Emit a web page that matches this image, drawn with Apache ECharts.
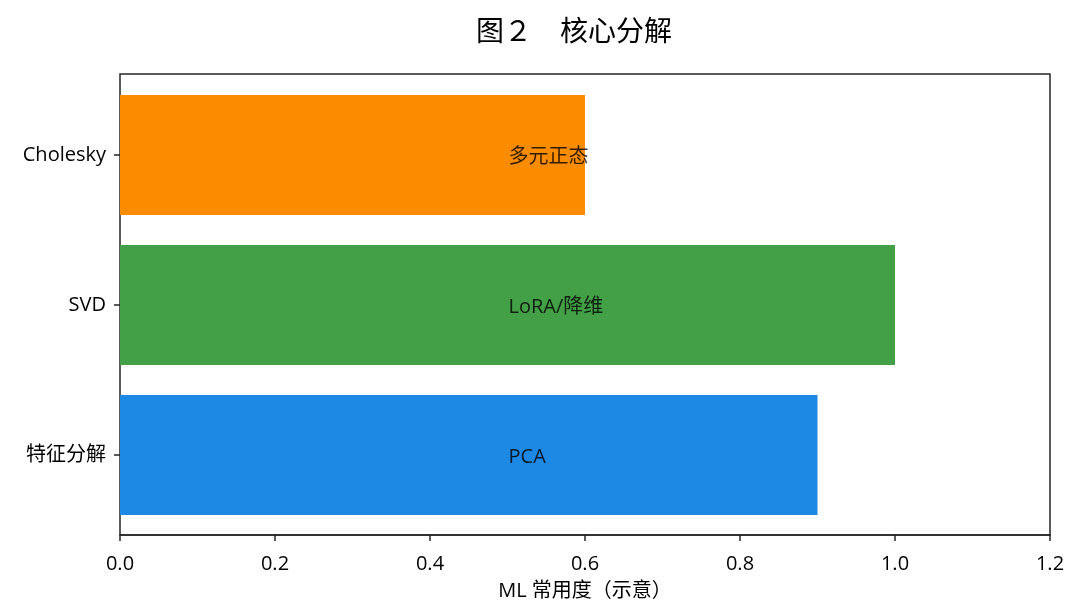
<!DOCTYPE html>
<html>
<head>
<meta charset="utf-8">
<script src="https://cdn.jsdelivr.net/npm/echarts@6/dist/echarts.min.js"></script>
<style>
	html, body { margin: 0; padding: 0; background: #fff; }
	#chart { width: 1079px; height: 614px; }
</style>
</head>
<body>
<div id="chart"></div>
<script>
// 数据
var categories = ['特征分解', 'SVD', 'Cholesky'];
var usage = [0.9, 1.0, 0.6];
var notes = ['PCA', 'LoRA/降维', '多元正态'];
var colors = ['#1E88E5', '#43A047', '#FB8C00'];
var labelX = 0.5;
var xTicks = [0, 0.2, 0.4, 0.6, 0.8, 1.0, 1.2];

var font = '"Open Sans", "Noto Sans CJK SC", sans-serif';
var axisColor = '#262626';

function loadChart(){
	var chart = echarts.init(document.getElementById('chart'));
	var option = {
		animation: false,
		title: {
			text: '图２　核心分解',
			left: 471,
			top: 14,
			textStyle: { fontFamily: font, fontSize: 28, fontWeight: 'normal', color: '#000' }
		},
		// 0: 画柱子的区域, 1: 外框
		grid: [
			{ left: 120, right: 29, top: 80, bottom: 84 },
			{ left: 120, right: 29, top: 74, bottom: 79, show: true, borderColor: axisColor, borderWidth: 1.5 }
		],
		xAxis: [
			{
				type: 'value',
				gridIndex: 0,
				min: xTicks[0], max: xTicks[xTicks.length - 1], interval: 0.2,
				offset: 5,
				name: 'ML 常用度（示意）',
				nameLocation: 'middle',
				nameGap: 46,
				nameTextStyle: { fontFamily: font, fontSize: 20, color: '#000' },
				axisLine: { show: true, lineStyle: { color: axisColor, width: 1.5 } },
				axisTick: { show: true, length: 6, lineStyle: { color: axisColor, width: 1.5 } },
				axisLabel: {
					fontFamily: font, fontSize: 20, color: '#000', margin: 19,
					formatter: function (v) { return v.toFixed(1); }
				},
				splitLine: { show: false }
			},
			{ type: 'value', gridIndex: 1, show: false, min: 0, max: 1, splitLine: { show: false } }
		],
		yAxis: [
			{
				type: 'category',
				gridIndex: 0,
				data: categories,
				axisLine: { show: false },
				axisTick: { show: true, length: 6, alignWithLabel: true, lineStyle: { color: axisColor, width: 1.5 } },
				axisLabel: { fontFamily: font, fontSize: 20, color: '#000', margin: 14, padding: [4, 0, 0, 0] }
			},
			{ type: 'value', gridIndex: 1, show: false, min: 0, max: 1, splitLine: { show: false } }
		],
		series: [
			{
				type: 'bar',
				xAxisIndex: 0, yAxisIndex: 0,
				barWidth: 120,
				data: usage.map(function (v, i) {
					return { value: v, itemStyle: { color: colors[i] } };
				})
			},
			{
				type: 'scatter',
				xAxisIndex: 0, yAxisIndex: 0,
				symbolSize: 0,
				silent: true,
				data: notes.map(function (t, i) { return [labelX, i, t]; }),
				label: {
					show: true,
					position: 'right',
					distance: 0,
					offset: [1, 2],
					fontFamily: font,
					fontSize: 20,
					color: '#000',
					formatter: function (p) { return p.data[2]; }
				}
			}
		]
	};
	chart.setOption(option);
}
loadChart();
</script>
</body>
</html>
